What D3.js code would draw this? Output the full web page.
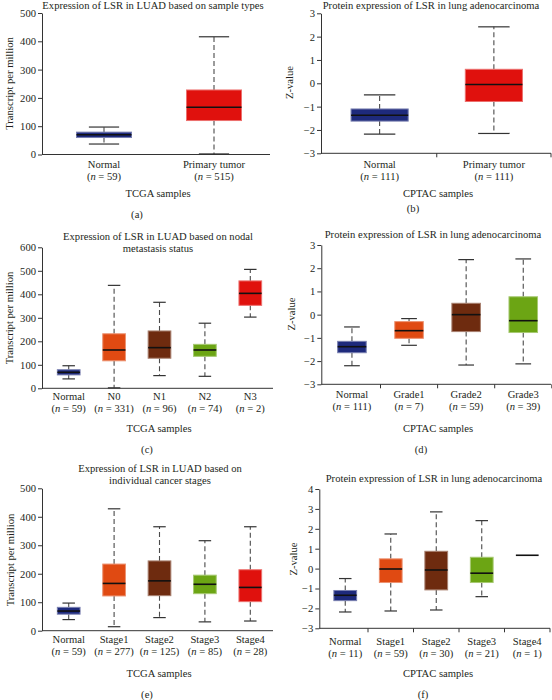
<!DOCTYPE html>
<html>
<head>
<meta charset="utf-8">
<script src="https://cdn.jsdelivr.net/npm/d3@7"></script>
<style>
  html, body { margin: 0; padding: 0; background: #fff; }
  svg { display: block; }
</style>
</head>
<body>
<svg id="chart" width="552" height="700"></svg>
<script>
// ---------- DATA ----------
// stats per box: [min, q1, median, q3, max]
const aCategories = ["Normal", "Primary tumor"];
const aCounts = [59, 515];
const aStats = [[37, 60, 70, 79, 97], [2, 120, 167, 228, 416]];

const bCategories = ["Normal", "Primary tumor"];
const bCounts = [111, 111];
const bStats = [[-2.18, -1.62, -1.37, -1.1, -0.5], [-2.15, -0.78, -0.05, 0.6, 2.42]];

const cCategories = ["Normal", "N0", "N1", "N2", "N3"];
const cCounts = [59, 331, 96, 74, 2];
const cStats = [[40, 57, 68, 79, 96], [2, 117, 163, 232, 438], [54, 128, 173, 244, 366],
                [51, 136, 163, 187, 277], [303, 353, 404, 457, 506]];

const dCategories = ["Normal", "Grade1", "Grade2", "Grade3"];
const dCounts = [111, 7, 59, 39];
const dStats = [[-2.2, -1.64, -1.38, -1.15, -0.53], [-1.32, -1.02, -0.69, -0.3, -0.17],
                [-2.17, -0.73, 0.0, 0.49, 2.37], [-2.12, -0.77, -0.26, 0.77, 2.4]];

const eCategories = ["Normal", "Stage1", "Stage2", "Stage3", "Stage4"];
const eCounts = [59, 277, 125, 85, 28];
const eStats = [[39, 58, 69, 82, 97], [14, 122, 166, 234, 428], [46, 123, 175, 245, 365],
                [31, 130, 163, 195, 316], [34, 102, 152, 214, 365]];

const fCategories = ["Normal", "Stage1", "Stage2", "Stage3", "Stage4"];
const fCounts = [11, 59, 30, 21, 1];
const fStats = [[-2.18, -1.61, -1.34, -1.1, -0.5], [-2.13, -0.7, -0.02, 0.49, 1.74],
                [-2.08, -1.07, -0.07, 0.87, 2.85], [-1.41, -0.7, -0.23, 0.57, 2.41],
                [0.67, 0.67, 0.67, 0.67, 0.67]];

const tcgaTicks = [0, 100, 200, 300, 400, 500];
const tcgaTicks600 = [0, 100, 200, 300, 400, 500, 600];
const zTicks = [-3, -2, -1, 0, 1, 2, 3];
const zTicks4 = [-3, -2, -1, 0, 1, 2, 3, 4];

const titleA = ["Expression of LSR in LUAD based on sample types"];
const titleB = ["Protein expression of LSR in lung adenocarcinoma"];
const titleC = ["Expression of LSR in LUAD based on nodal", "metastasis status"];
const titleD = ["Protein expression of LSR in lung adenocarcinoma"];
const titleE = ["Expression of LSR in LUAD based on", "individual cancer stages"];
const titleF = ["Protein expression of LSR in lung adenocarcinoma"];

// ---------- STYLE ----------
const FONT = "'Liberation Serif', 'DejaVu Serif', 'Times New Roman', serif";
const TXT = "#231f20";
const colorMap = {
  "Normal": "#1e2a7c",
  "Primary tumor": "#e0110d",
  "N0": "#e04a12", "Stage1": "#e04a12", "Grade1": "#e04a12",
  "N1": "#6e2b0f", "Stage2": "#6e2b0f", "Grade2": "#6e2b0f",
  "N2": "#6ca514", "Stage3": "#6ca514", "Grade3": "#6ca514",
  "N3": "#e0110d", "Stage4": "#e0110d"
};

// ---------- LAYOUT (positions only) ----------
const panels = [
  { cats: aCategories, counts: aCounts, stats: aStats, ticks: tcgaTicks, domain: [0, 500],
    title: titleA, titleX: 153, titleY: 8.5, axisX: 42, band: [49, 269], axisEnd: 270,
    yRange: [154.5, 13], yLabel: "Transcript per million", yLabelX: 13, yLabelY: 83.5,
    catY: 167.5, xLabel: "TCGA samples", xLabelX: 158, xLabelY: 196.5, letter: "(a)", letterX: 137, letterY: 218, bottomTicks: false },
  { cats: bCategories, counts: bCounts, stats: bStats, ticks: zTicks, domain: [-3, 3],
    title: titleB, titleX: 431, titleY: 8.5, axisX: 321, band: [322.5, 551], axisEnd: 551,
    yRange: [153.3, 13.3], yLabel: "Z-value", yLabelX: 292.5, yLabelY: 82.5,
    catY: 167.5, xLabel: "CPTAC samples", xLabelX: 438, xLabelY: 196.5, letter: "(b)", letterX: 413, letterY: 212, bottomTicks: true },
  { cats: cCategories, counts: cCounts, stats: cStats, ticks: tcgaTicks600, domain: [0, 600],
    title: titleC, titleX: 158, titleY: 239.5, axisX: 42, band: [46, 273], axisEnd: 273,
    yRange: [388.3, 247.3], yLabel: "Transcript per million", yLabelX: 12.7, yLabelY: 318,
    catY: 399.5, xLabel: "TCGA samples", xLabelX: 159, xLabelY: 431.5, letter: "(c)", letterX: 147, letterY: 452.5, bottomTicks: false },
  { cats: dCategories, counts: dCounts, stats: dStats, ticks: zTicks, domain: [-3, 3],
    title: titleD, titleX: 433, titleY: 237.5, axisX: 321.3, band: [323.4, 551.8], axisEnd: 551,
    yRange: [384.3, 245], yLabel: "Z-value", yLabelX: 295, yLabelY: 314,
    catY: 397.5, xLabel: "CPTAC samples", xLabelX: 438, xLabelY: 431.5, letter: "(d)", letterX: 421, letterY: 452.5, bottomTicks: true },
  { cats: eCategories, counts: eCounts, stats: eStats, ticks: tcgaTicks, domain: [0, 500],
    title: titleE, titleX: 160, titleY: 471.7, axisX: 42, band: [46, 273], axisEnd: 273,
    yRange: [630.7, 488.3], yLabel: "Transcript per million", yLabelX: 14, yLabelY: 560,
    catY: 642.5, xLabel: "TCGA samples", xLabelX: 159, xLabelY: 676.5, letter: "(e)", letterX: 147, letterY: 698, bottomTicks: false },
  { cats: fCategories, counts: fCounts, stats: fStats, ticks: zTicks4, domain: [-3, 4],
    title: titleF, titleX: 434, titleY: 481.7, axisX: 319.3, band: [322.5, 550], axisEnd: 550,
    yRange: [628.3, 489], yLabel: "Z-value", yLabelX: 296.5, yLabelY: 559,
    catY: 644.5, xLabel: "CPTAC samples", xLabelX: 438, xLabelY: 676.5, letter: "(f)", letterX: 423, letterY: 698, bottomTicks: true }
];

const svg = d3.select("#chart");
const FS = 10.6;

panels.forEach(p => {
  const g = svg.append("g");
  const x = d3.scaleBand().domain(p.cats).range(p.band).paddingInner(0).paddingOuter(0);
  const y = d3.scaleLinear().domain(p.domain).range(p.yRange);

  // title
  const t = g.append("text").attr("x", p.titleX).attr("y", p.titleY)
    .attr("text-anchor", "middle").attr("font-family", FONT).attr("font-size", FS).attr("fill", TXT);
  p.title.forEach((line, i) => {
    t.append("tspan").attr("x", p.titleX).attr("dy", i === 0 ? 0 : 12.5).text(line);
  });

  // y axis
  const yAxis = d3.axisLeft(y).tickValues(p.ticks).tickSize(4).tickSizeOuter(0).tickPadding(2)
    .tickFormat(d3.format("d"));
  const ya = g.append("g").attr("transform", `translate(${p.axisX},0)`).call(yAxis);
  ya.select(".domain").attr("stroke", "#333").attr("stroke-width", 1);
  ya.selectAll(".tick line").attr("stroke", "#333");
  ya.selectAll(".tick text").attr("font-family", FONT).attr("font-size", FS).attr("fill", TXT)
    .text(d => d < 0 ? "\u2212" + Math.abs(d) : String(d));

  // x axis baseline
  const y0 = p.yRange[0];
  g.append("line").attr("x1", p.axisX).attr("x2", p.axisEnd).attr("y1", y0).attr("y2", y0)
    .attr("stroke", "#333").attr("stroke-width", 1);
  if (p.bottomTicks) {
    const bounds = p.cats.map(c => x(c)).concat([x(p.cats[p.cats.length - 1]) + x.bandwidth()]);
    g.selectAll(".bt").data(bounds.slice(1)).join("line")
      .attr("x1", d => d).attr("x2", d => d).attr("y1", y0).attr("y2", y0 + 4)
      .attr("stroke", "#333").attr("stroke-width", 1);
  }

  // y label (baseline at yLabelX)
  g.append("text").attr("transform", `translate(${p.yLabelX},${p.yLabelY}) rotate(-90)`)
    .attr("text-anchor", "middle").attr("font-family", FONT).attr("font-size", FS).attr("fill", TXT)
    .text(p.yLabel);

  // boxes
  const bw = x.bandwidth() * 0.5;
  p.cats.forEach((c, i) => {
    const [mn, q1, md, q3, mx] = p.stats[i];
    const cx = x(c) + x.bandwidth() / 2;
    const col = colorMap[c];
    const bg = g.append("g");
    if (mn === mx) {
      bg.append("line").attr("x1", cx - bw / 2).attr("x2", cx + bw / 2).attr("y1", y(md)).attr("y2", y(md))
        .attr("stroke", "#111").attr("stroke-width", 1.6);
      return;
    }
    const capW = bw * 0.55;
    // whiskers
    [[q3, mx], [q1, mn]].forEach(([a, b]) => {
      bg.append("line").attr("x1", cx).attr("x2", cx).attr("y1", y(a)).attr("y2", y(b))
        .attr("stroke", "#4a4a4a").attr("stroke-width", 1.1).attr("stroke-dasharray", "5,3");
      bg.append("line").attr("x1", cx - capW / 2).attr("x2", cx + capW / 2).attr("y1", y(b)).attr("y2", y(b))
        .attr("stroke", "#333").attr("stroke-width", 1.2);
    });
    // box
    bg.append("rect").attr("x", cx - bw / 2).attr("width", bw)
      .attr("y", y(q3)).attr("height", y(q1) - y(q3))
      .attr("fill", col).attr("stroke", d3.interpolateRgb(col, "#ffffff")(0.4)).attr("stroke-width", 1);
    // median
    bg.append("line").attr("x1", cx - bw / 2).attr("x2", cx + bw / 2).attr("y1", y(md)).attr("y2", y(md))
      .attr("stroke", "#111").attr("stroke-width", 1.6);
  });

  // category labels
  p.cats.forEach((c, i) => {
    const cx = x(c) + x.bandwidth() / 2;
    g.append("text").attr("x", cx).attr("y", p.catY).attr("text-anchor", "middle")
      .attr("font-family", FONT).attr("font-size", FS).attr("fill", TXT).text(c);
    const nt = g.append("text").attr("x", cx).attr("y", p.catY + 12.8).attr("text-anchor", "middle")
      .attr("font-family", FONT).attr("font-size", FS).attr("fill", TXT);
    nt.append("tspan").text("(");
    nt.append("tspan").attr("font-style", "italic").text("n");
    nt.append("tspan").text(" = " + p.counts[i] + ")");
  });

  // x label
  g.append("text").attr("x", p.xLabelX).attr("y", p.xLabelY).attr("text-anchor", "middle")
    .attr("font-family", FONT).attr("font-size", FS).attr("fill", TXT).text(p.xLabel);
  // panel letter
  g.append("text").attr("x", p.letterX).attr("y", p.letterY).attr("text-anchor", "middle")
    .attr("font-family", FONT).attr("font-size", FS).attr("fill", TXT).text(p.letter);
});
</script>
</body>
</html>
